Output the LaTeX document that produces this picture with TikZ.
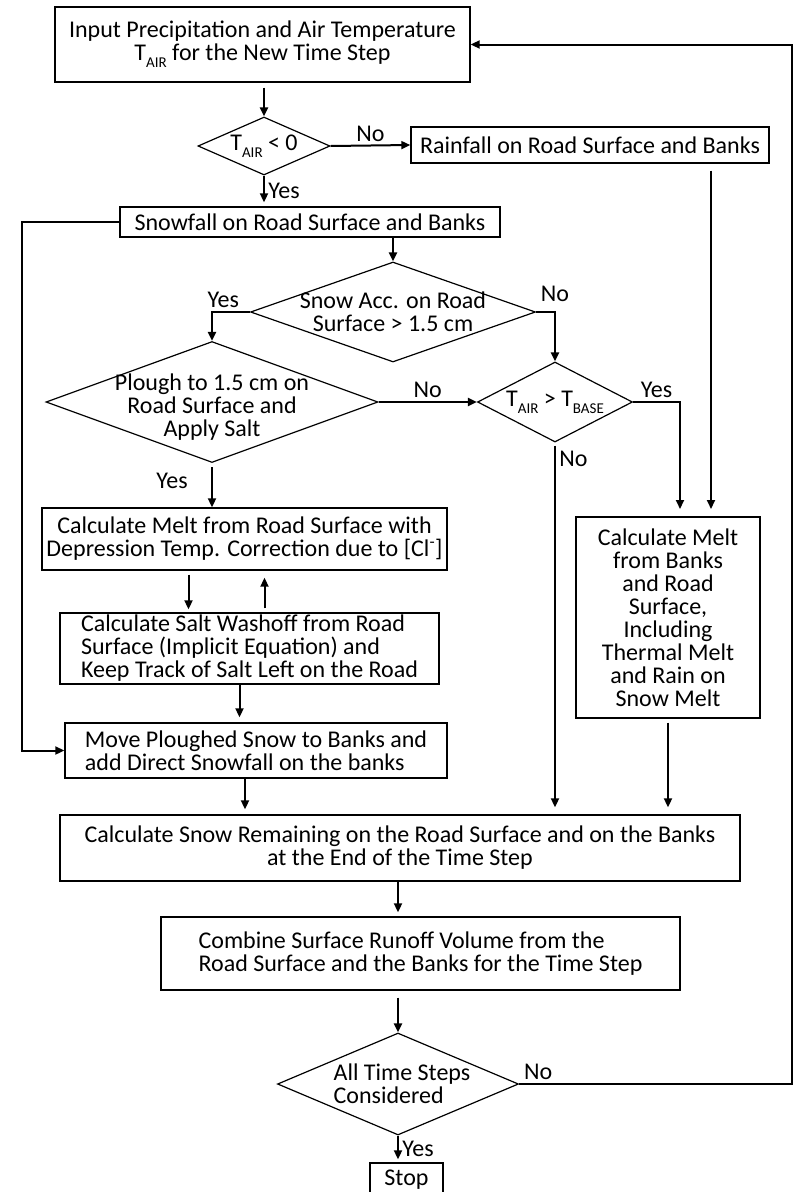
\documentclass[tikz,border=0pt]{standalone}
\usepackage{fontspec}
\setmainfont{Carlito}
\usetikzlibrary{shapes.geometric,arrows.meta}
\newcommand{\Tsub}[1]{T\raisebox{-0.3em}{\fontsize{15}{15}\selectfont #1}}

\begin{document}
\begin{tikzpicture}[x=1pt, y=-1pt, line width=1.4pt,
    font=\fontsize{24}{23}\selectfont,
    box/.style={draw, rectangle, inner sep=0pt, align=center},
    dec/.style={draw, diamond, inner sep=0pt, line width=1.2pt},
    flow/.style={-{Triangle[length=9pt,width=8pt]}, line width=2pt}]
    \useasboundingbox (0,0) rectangle (796,1192);

    % 输入与降水
    \node[box, minimum width=415pt, minimum height=75pt] (input) at (262.5,44.5)
        {Input Precipitation and Air Temperature\\\Tsub{AIR} for the New Time Step};
    \node[dec, minimum width=132pt, minimum height=58pt] (d1) at (264,146) {};
    \node (d1t) at (d1) {\Tsub{AIR} < 0};
    \node[box, minimum width=358pt, minimum height=36pt] (rain) at (590,145)
        {Rainfall on Road Surface and Banks};
    \node[box, minimum width=380pt, minimum height=30pt] (snow) at (310,222)
        {Snowfall on Road Surface and Banks};

    % 判断框
    \node[dec, minimum width=285pt, minimum height=100pt] (d2) at (393,312) {};
    \node[align=center] (d2t) at (d2) {Snow Acc. on Road\\Surface > 1.5 cm};
    \node[dec, minimum width=332pt, minimum height=121pt] (d3) at (212,402) {};
    \node[align=center] (d3t) at (212,407) {Plough to 1.5 cm on\\Road Surface and\\Apply Salt};
    \node[dec, minimum width=155pt, minimum height=80pt] (d4) at (555,402) {};
    \node (d4t) at (d4) {\Tsub{AIR} > \Tsub{BASE}};

    % 融雪与盐
    \node[box, minimum width=405pt, minimum height=62pt] (meltroad) at (244.5,539)
        {Calculate Melt from Road Surface with\\Depression Temp. Correction due to [Cl\textsuperscript{-}]};
    \node[box, align=left, minimum width=379pt, minimum height=71pt] (salt) at (249.5,648.5)
        {Calculate Salt Washoff from Road\\Surface (Implicit Equation) and\\Keep Track of Salt Left on the Road};
    \node[box, align=left, minimum width=382pt, minimum height=55pt] (move) at (256,750.5)
        {Move Ploughed Snow to Banks and\\add Direct Snowfall on the banks};
    \node[box, minimum width=184pt, minimum height=201pt] (meltbank) at (668,617.5)
        {Calculate Melt\\from Banks\\and Road\\Surface,\\Including\\Thermal Melt\\and Rain on\\Snow Melt};

    % 汇总
    \node[box, minimum width=680pt, minimum height=66pt] (remain) at (400,848)
        {Calculate Snow Remaining on the Road Surface and on the Banks\\at the End of the Time Step};
    \node[box, align=left, minimum width=519pt, minimum height=73pt] (combine) at (420.5,953.5)
        {Combine Surface Runoff Volume from the\\Road Surface and the Banks for the Time Step};
    \node[dec, minimum width=241pt, minimum height=102pt] (d5) at (398,1084) {};
    \node[align=left] (d5t) at (402,1084) {All Time Steps\\Considered};
    \node[box, minimum width=73pt, minimum height=34pt] (stop) at (406.5,1180) {Stop};

    \coordinate (loopR) at (792,0);
    \coordinate (mbY) at (680,517);
    \coordinate (mbR) at (711,517);

    % 连线
    \draw[flow, shorten <=5pt] (d1.north |- input.south) -- (d1.north);
    \draw[flow] (d1.east) -- node[above] {No} (rain.west);
    \draw[flow, shorten >=4pt] (d1.south) -- node[right] {Yes} (d1.south |- snow.north);
    \draw[flow] (snow.west) -- ++(-97,0) |- (move.west);
    \draw[flow] (d2.north |- snow.south) -- (d2.north);
    \draw[flow] (d2.west) -| node[pos=0.35, above] {Yes} (d3.north);
    \draw[flow] (d2.east) -| node[pos=0.5, above=6pt] {No} (d4.north);
    \draw[flow] (d3.east) -- node[above] {No} (d4.west);
    \draw[flow, shorten >=8pt] (d4.east) -| node[pos=0.25, above] {Yes} (mbY);
    \draw[flow, shorten <=7pt, shorten >=8pt] (rain.south -| mbR) -- (mbR);
    \draw[flow, shorten <=3pt, shorten >=7pt] (d4.south) -- node[pos=0.045, right] {No} (d4.south |- remain.north);
    \draw[flow, shorten <=4pt] (d3.south) -- node[pos=0.4, left=20pt] {Yes} (d3.south |- meltroad.north);
    \draw[flow, shorten <=4pt, shorten >=3pt] ([xshift=-56pt]meltroad.south) -- ([xshift=-56pt]meltroad.south |- salt.north);
    \draw[flow, shorten <=4pt, shorten >=7pt] ([xshift=20pt]salt.north -| meltroad.south) -- ([xshift=20pt]meltroad.south);
    \draw[flow, shorten >=5pt] ([xshift=-10pt]salt.south) -- ([xshift=-10pt]salt.south |- move.north);
    \draw[flow, shorten >=5pt] ([xshift=-11pt]move.south) -- ([xshift=-11pt]move.south |- remain.north);
    \draw[flow, shorten <=4pt, shorten >=7pt] (meltbank.south) -- (meltbank.south |- remain.north);
    \draw[flow, shorten >=4pt] (d5.north |- remain.south) -- (d5.north |- combine.north);
    \draw[flow, shorten <=7pt] (d5.north |- combine.south) -- (d5.north);
    \draw[flow, shorten >=3pt] (d5.south) -- node[right] {Yes} (d5.south |- stop.north);
    \draw[flow] (d5.east) -- node[pos=0.07, above] {No} (d5.east -| loopR) |- (input.east);
\end{tikzpicture}
\end{document}
